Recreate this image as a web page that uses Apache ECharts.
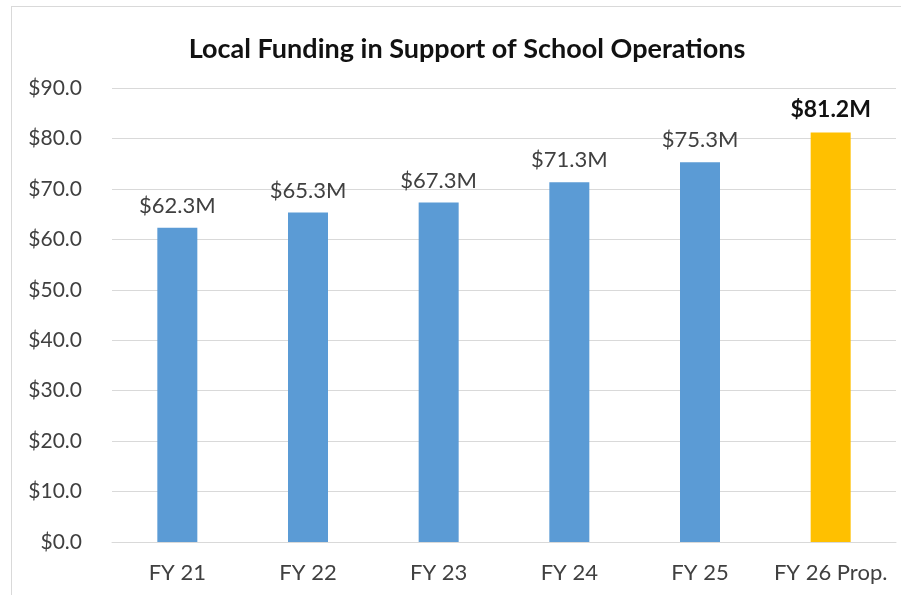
<!DOCTYPE html>
<html>
<head>
<meta charset="utf-8">
<script src="https://cdn.jsdelivr.net/npm/echarts@6/dist/echarts.min.js"></script>
<style>
html,body{margin:0;padding:0;background:#fff;}
#frame{position:absolute;left:11px;top:6px;width:890px;height:589px;border-left:1.5px solid #d9d9d9;border-top:1.5px solid #d9d9d9;box-sizing:border-box;}
#chart{position:absolute;left:0;top:0;width:901px;height:595px;}
</style>
</head>
<body>
<div id="frame"></div>
<div id="chart"></div>
<script>
const categories = ["FY 21", "FY 22", "FY 23", "FY 24", "FY 25", "FY 26 Prop."];
const values = [62.3, 65.3, 67.3, 71.3, 75.3, 81.2];
const valueLabels = ["$62.3M", "$65.3M", "$67.3M", "$71.3M", "$75.3M", "$81.2M"];
const yTicks = [0, 10, 20, 30, 40, 50, 60, 70, 80, 90];

const FONT = "Lato, 'Open Sans', sans-serif";
const chart = echarts.init(document.getElementById('chart'), null, {renderer: 'canvas'});
const last = values.length - 1;
chart.setOption({
  animation: false,
  backgroundColor: 'transparent',
  title: {
    text: 'Local Funding in Support of School Operations',
    left: 462, top: 31, textAlign: 'center',
    textStyle: {fontFamily: FONT, fontWeight: 'bold', fontSize: 27, color: '#111'}
  },
  grid: {left: 112, right: 5, top: 88, bottom: 53},
  xAxis: {
    type: 'category',
    data: categories,
    axisLine: {show: true, lineStyle: {color: '#d9d9d9', width: 1}},
    axisTick: {show: false},
    axisLabel: {interval: 0, hideOverlap: false, fontFamily: FONT, fontSize: 22, color: '#404040', margin: 20}
  },
  yAxis: {
    type: 'value',
    min: yTicks[0], max: yTicks[yTicks.length - 1], interval: 10,
    axisLine: {show: false},
    axisTick: {show: false},
    splitLine: {lineStyle: {color: '#d9d9d9', width: 1}},
    axisLabel: {
      fontFamily: FONT, fontSize: 21, color: '#404040', margin: 30,
      formatter: v => '$' + v.toFixed(1)
    }
  },
  series: [{
    type: 'bar',
    barWidth: 40,
    data: values.map((v, i) => ({
      value: v,
      itemStyle: {color: i === last ? '#FFC000' : '#5B9BD5'},
      label: {
        show: true, position: 'top', distance: 11,
        formatter: valueLabels[i],
        fontFamily: FONT, fontSize: i === last ? 23 : 22,
        fontWeight: i === last ? 'bold' : 'normal',
        color: i === last ? '#111' : '#404040'
      }
    }))
  }]
});
</script>
</body>
</html>
